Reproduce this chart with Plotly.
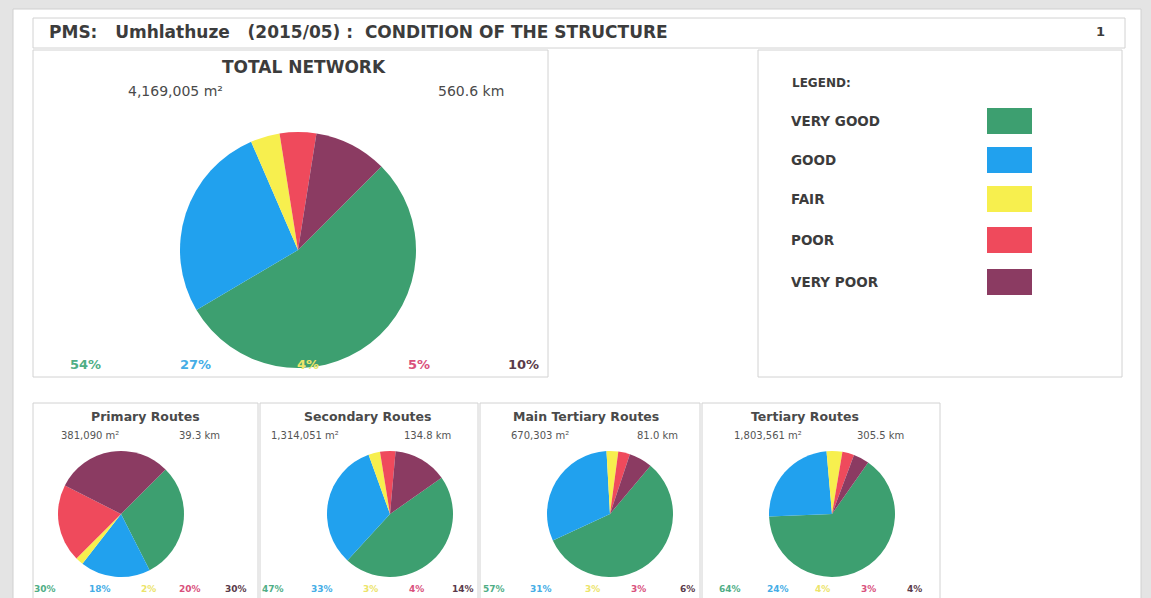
import plotly.graph_objects as go

W, H = 1151, 598

# ---------------- data ----------------
conditions = ["VERY GOOD", "GOOD", "FAIR", "POOR", "VERY POOR"]
colors = ["#3d9f70", "#21a1ee", "#f7ef4e", "#ef4a5c", "#8b3b62"]
pct_colors = ["#4fae86", "#45ade6", "#ece46a", "#d9507c", "#5a3a4a"]

total_name = "TOTAL NETWORK"
total_values = [54, 27, 4, 5, 10]
total_area = "4,169,005 m²"
total_length = "560.6 km"

route_names = ["Primary Routes", "Secondary Routes", "Main Tertiary Routes", "Tertiary Routes"]
primary_values = [30, 18, 2, 20, 30]
secondary_values = [47, 33, 3, 4, 14]
main_tertiary_values = [57, 31, 3, 3, 6]
tertiary_values = [64, 24, 4, 3, 4]
route_values = [primary_values, secondary_values, main_tertiary_values, tertiary_values]
route_areas = ["381,090 m²", "1,314,051 m²", "670,303 m²", "1,803,561 m²"]
route_lengths = ["39.3 km", "134.8 km", "81.0 km", "305.5 km"]

header = "PMS:   Umhlathuze   (2015/05) :  CONDITION OF THE STRUCTURE"
page_no = "1"

# ---------------- layout helpers (pixel -> paper) ----------------
def px(x):
    return x / W

def py(y):
    return 1 - y / H

FONT = "DejaVu Sans, Verdana, sans-serif"
TXT = "#4a4a4a"
DARK = "#3c3c3c"

fig = go.Figure()

def add_pie(values, cx, cy, d, rotation):
    fig.add_trace(go.Pie(
        labels=conditions, values=values, sort=False, direction="clockwise",
        rotation=rotation, textinfo="none", showlegend=False,
        marker=dict(colors=colors, line=dict(width=0)),
        domain=dict(x=[px(cx - d / 2), px(cx + d / 2)], y=[py(cy + d / 2), py(cy - d / 2)]),
        hovertemplate="%{label}: %{value}%<extra></extra>",
    ))

# big pie
add_pie(total_values, 298, 250, 236, 45)

# small pies
small_cx = [121, 390, 610, 832]
small_rot = [45, 55, 40, 35]
for vals, cx, rot in zip(route_values, small_cx, small_rot):
    add_pie(vals, cx, 514, 126, rot)

shapes = []
ann = []

def rect(x0, y0, x1, y1, line="#d2d2d2", fill=None, lw=1):
    shapes.append(dict(type="rect", xref="paper", yref="paper",
                       x0=px(x0), x1=px(x1), y0=py(y1), y1=py(y0),
                       line=dict(color=line, width=lw),
                       fillcolor=fill if fill else "rgba(0,0,0,0)", layer="below"))

def text(s, x, y, size=12, color=TXT, bold=False, xanchor="center"):
    ann.append(dict(text=f"<b>{s}</b>" if bold else s, x=px(x), y=py(y),
                    xref="paper", yref="paper", showarrow=False,
                    xanchor=xanchor, yanchor="middle",
                    font=dict(family=FONT, size=size, color=color)))

# page
rect(13, 9, 1141, 605, line="#d0d0d0", fill="white", lw=1)
# header box
rect(33, 18, 1125, 48)
text(header, 47, 32, size=17, bold=True, xanchor="left", color=DARK)
text(page_no, 1100, 32, size=13, bold=True, color=DARK)

# total network panel
rect(33, 50, 548, 377)
text(total_name, 304, 67, size=17, bold=True, color=DARK)
text(total_area, 175, 91, size=14)
text(total_length, 471, 91, size=14)
big_pct_x = [85, 195, 308, 419, 523]
for v, x, c in zip(total_values, big_pct_x, pct_colors):
    text(f"{v}%", x, 364, size=13, bold=True, color=c)

# legend panel
rect(758, 50, 1122, 377)
text("LEGEND:", 790, 83, size=12, bold=True, xanchor="left", color=DARK)
leg_y = [121, 160, 199, 240, 282]
for name, col, y in zip(conditions, colors, leg_y):
    text(name, 789, y, size=13.5, bold=True, xanchor="left", color=DARK)
    shapes.append(dict(type="rect", xref="paper", yref="paper",
                       x0=px(987), x1=px(1032), y0=py(y + 13), y1=py(y - 13),
                       line=dict(width=0), fillcolor=col))

# small panels
box_x = [(33, 258), (260, 478), (480, 700), (702, 940)]
title_cx = [145, 367, 586, 805]
area_cx = [90, 305, 540, 768]
len_cx = [199, 427, 657, 880]
pct_x = [[45, 100, 148, 190, 236],
         [273, 322, 370, 416, 463],
         [494, 541, 592, 638, 687],
         [730, 778, 822, 868, 914]]
for i in range(4):
    rect(box_x[i][0], 403, box_x[i][1], 610)
    text(route_names[i], title_cx[i], 416, size=12.5, bold=True, color=TXT)
    text(route_areas[i], area_cx[i], 435, size=10, color="#555555")
    text(route_lengths[i], len_cx[i], 435, size=10, color="#555555")
    for v, x, c in zip(route_values[i], pct_x[i], pct_colors):
        text(f"{v}%", x, 589, size=9, bold=True, color=c)

fig.update_layout(
    width=W, height=H, margin=dict(l=0, r=0, t=0, b=0),
    paper_bgcolor="#e4e4e4", plot_bgcolor="white",
    shapes=shapes, annotations=ann, showlegend=False,
)

fig.write_html("out.html", config={"displayModeBar": False},
               post_script="document.body.style.margin='0';document.body.style.overflow='hidden';")
